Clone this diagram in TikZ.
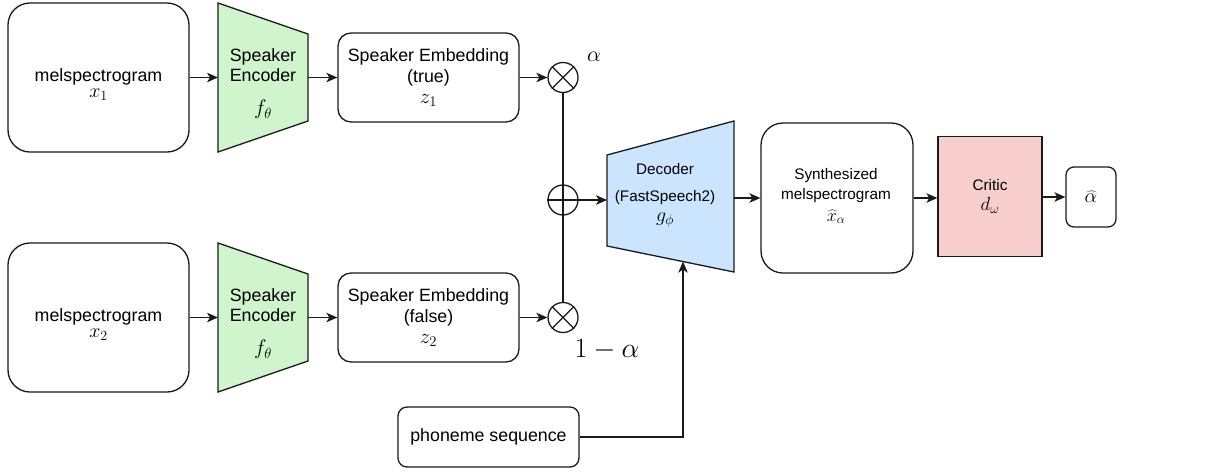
\RequirePackage{fix-cm}
\documentclass[tikz,border=0pt]{standalone}
\usepackage{fontspec}
\setmainfont{Liberation Sans}
\usetikzlibrary{arrows.meta,calc}
\definecolor{encgreen}{HTML}{D0F5CC}
\definecolor{decblue}{HTML}{CCE5FF}
\definecolor{critred}{HTML}{F8CECC}
\definecolor{ink}{HTML}{1A1A1A}
\newcommand\mathat[2]{{\fontsize{#1}{#1}\selectfont$#2$}}
\begin{document}
\begin{tikzpicture}[x=1pt,y=-1pt,
  font=\fontsize{17.8}{20}\selectfont,
  small/.style={font=\fontsize{15.3}{20}\selectfont},
  ln/.style={line width=1.3pt, draw=ink},
  rbox/.style={ln, rounded corners=#1, align=center, inner sep=0pt},
  lab/.style={align=center, inner sep=0pt},
  hold/.style={inner sep=0pt, outer sep=0pt},
  arr/.style={ln, -{Stealth[length=11pt,width=9.5pt,inset=3pt]}},
  op/.style={ln, circle, minimum size=30pt, inner sep=0pt},
]
\fill[white] (0,0) rectangle (1214,475);
\useasboundingbox (0,0) rectangle (1214,475);

% melspectrogram boxes
\node[rbox=22pt, minimum width=181pt, minimum height=149pt] (m1) at (98.5,77.5) {};
\node[lab] (m1t) at (98.5,84.5) {melspectrogram\\[-4pt]\mathat{20}{x_1}};
\node[rbox=22pt, minimum width=181pt, minimum height=149pt] (m2) at (98.5,317.5) {};
\node[lab] (m2t) at (98.5,324.5) {melspectrogram\\[-4pt]\mathat{20}{x_2}};

% speaker encoders
\node[hold, minimum width=90pt, minimum height=149pt] (e1) at (263,77.5) {};
\draw[ln, fill=encgreen] (e1.north west) -- ($(e1.north east)+(0,31)$) -- ($(e1.south east)+(0,-31)$) -- (e1.south west) -- cycle;
\node[lab] (e1t) at (263,84) {Speaker\\Encoder\\[13pt]\mathat{21}{f_\theta}};
\node[hold, minimum width=90pt, minimum height=149pt] (e2) at (263,317.5) {};
\draw[ln, fill=encgreen] (e2.north west) -- ($(e2.north east)+(0,31)$) -- ($(e2.south east)+(0,-31)$) -- (e2.south west) -- cycle;
\node[lab] (e2t) at (263,324) {Speaker\\Encoder\\[13pt]\mathat{21}{f_\theta}};

% speaker embeddings
\node[rbox=13pt, minimum width=181pt, minimum height=89pt] (b1) at (428.5,77.5) {Speaker Embedding\\[1pt](true)\\[1pt]\mathat{21}{z_1}};
\node[rbox=13pt, minimum width=181pt, minimum height=89pt] (b2) at (428.5,317.5) {Speaker Embedding\\[1pt](false)\\[1pt]\mathat{21}{z_2}};

% operators
\node[op] (t1) at (563,77.5) {};
\draw[ln] (t1.north west) -- (t1.south east) (t1.north east) -- (t1.south west);
\node[op] (pl) at (563,200) {};
\draw[ln] (pl.west) -- (pl.east);
\node[op] (t2) at (563,317.5) {};
\draw[ln] (t2.north west) -- (t2.south east) (t2.north east) -- (t2.south west);
\node[lab] (al) at (594,57) {\mathat{22}{\alpha}};
\node[lab] (oma) at (607,350) {\mathat{28}{1-\alpha}};

% decoder
\node[hold, minimum width=127pt, minimum height=151pt] (d) at (670.5,196.5) {};
\draw[ln, fill=decblue] ($(d.north west)+(0,34)$) -- (d.north east) -- (d.south east) -- ($(d.south west)+(0,-26)$) -- cycle;
\node[lab, small] (dt) at (665,195) {Decoder\\[7pt](FastSpeech2)\\\mathat{20}{g_\phi}};
\coordinate (dbot) at (683,261.6);

% synthesized
\node[rbox=22pt, minimum width=152pt, minimum height=150pt] (s) at (837,198) {};
\node[lab, small] (st) at (836,196) {Synthesized\\melspectrogram\\[2pt]\mathat{18}{\widehat{x}_\alpha}};

% critic
\node[ln, fill=critred, minimum width=104pt, minimum height=120pt, align=center, inner sep=0pt, small] (c) at (990,196.5) {Critic\\\mathat{19}{d_\omega}};

% alpha hat
\node[rbox=8pt, minimum width=50pt, minimum height=60pt] (ah) at (1091,197) {\mathat{20}{\widehat{\alpha}}};

% phoneme
\node[rbox=9pt, minimum width=181pt, minimum height=60pt] (ph) at (488.5,437) {phoneme sequence};

% connectors
\draw[arr] (m1.east) -- (e1.west);
\draw[arr] (m2.east) -- (e2.west);
\draw[arr] (e1.east) -- (b1.west);
\draw[arr] (e2.east) -- (b2.west);
\draw[arr] (b1.east) -- (t1.west);
\draw[arr] (b2.east) -- (t2.west);
\draw[ln] (t1.south) -- (t2.north);
\draw[arr] (pl.east) -- (pl.east -| d.west);
\draw[arr] (d.east |- s.west) -- (s.west);
\draw[arr] (s.east) -- (s.east -| c.west);
\draw[arr] (c.east |- ah.west) -- (ah.west);
\draw[arr] (ph.east) -| (dbot);
\end{tikzpicture}
\end{document}
